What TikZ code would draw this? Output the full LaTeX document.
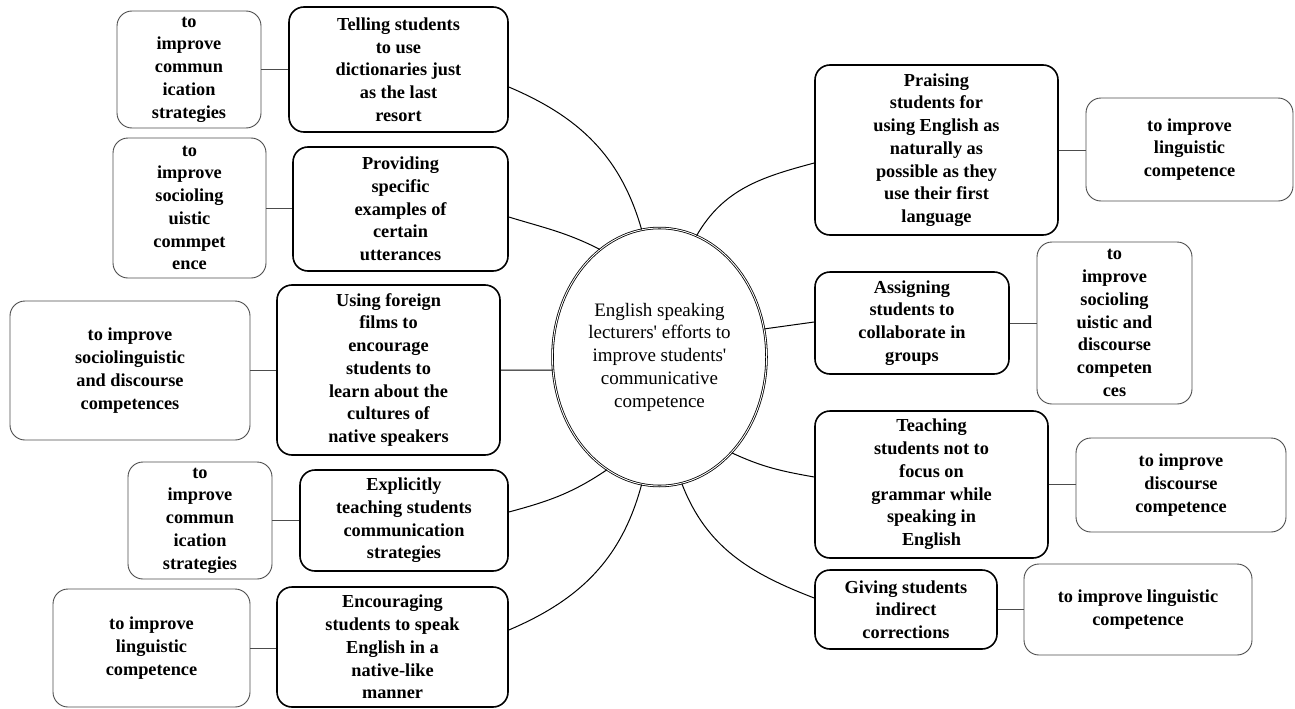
\documentclass[tikz,border=0pt]{standalone}
\usepackage{fontspec}
\setmainfont{Liberation Serif}[Ligatures=TeXOff]
\usetikzlibrary{shapes.geometric}
\tikzset{
  mainbox/.style={draw=black, line width=1.6pt, rounded corners=15pt, align=center, inner sep=0pt,
    font=\bfseries\fontsize{18.3}{22.75}\selectfont},
  subbox/.style={draw=black!70, line width=0.9pt, rounded corners=15pt, align=center, inner sep=0pt,
    font=\bfseries\fontsize{18.3}{22.75}\selectfont},
  hub/.style={ellipse, draw=black, line width=0.8pt, double=white, double distance=0.9pt,
    align=center, inner sep=0pt, font=\fontsize{19}{22.75}\selectfont},
  link/.style={draw=black!70, line width=0.9pt},
  arm/.style={draw=black, line width=1pt},
}
\begin{document}
\begin{tikzpicture}[x=1pt,y=-1pt]
\useasboundingbox (0,0) rectangle (1295,709);

% centre
\node[hub, minimum width=214pt, minimum height=258pt] (c) at (659.5,357)
  {English speaking\\lecturers' efforts to\\improve students'\\communicative\\competence};

% left main boxes
\node[mainbox, minimum width=219pt, minimum height=125pt] (m1) at (398.5,69.5)
  {Telling students\\to use\\dictionaries just\\as the last\\resort};
\node[mainbox, minimum width=215pt, minimum height=124pt] (m2) at (400.5,209)
  {Providing\\specific\\examples of\\certain\\utterances};
\node[mainbox, minimum width=223pt, minimum height=170pt] (m3) at (388.5,370)
  {Using foreign\\films to\\encourage\\students to\\learn about the\\cultures of\\native speakers};
\node[mainbox, minimum width=208pt, minimum height=101pt] (m4) at (404,520.5)
  {Explicitly\\teaching students\\communication\\strategies};
\node[mainbox, minimum width=231pt, minimum height=120pt] (m5) at (392.5,647)
  {Encouraging\\students to speak\\English in a\\native-like\\manner};

% left secondary boxes
\node[subbox, minimum width=144pt, minimum height=117pt] (s1) at (189,69.5)
  {to\\improve\\commun\\ication\\strategies};
\node[subbox, minimum width=153pt, minimum height=140pt] (s2) at (189.5,208)
  {to\\improve\\socioling\\uistic\\commpet\\ence};
\node[subbox, minimum width=240pt, minimum height=139pt] (s3) at (130,370.5)
  {to improve\\sociolinguistic\\and discourse\\competences};
\node[subbox, minimum width=144pt, minimum height=117pt] (s4) at (200,520.5)
  {to\\improve\\commun\\ication\\strategies};
\node[subbox, minimum width=197pt, minimum height=118pt] (s5) at (151.5,648)
  {to improve\\linguistic\\competence};

% right main boxes
\node[mainbox, minimum width=243pt, minimum height=170pt] (r1) at (936.5,150)
  {Praising\\students for\\using English as\\naturally as\\possible as they\\use their first\\language};
\node[mainbox, minimum width=194pt, minimum height=102pt] (r2) at (912,323)
  {Assigning\\students to\\collaborate in\\groups};
\node[mainbox, minimum width=233pt, minimum height=147pt] (r3) at (931.5,484.5)
  {Teaching\\students not to\\focus on\\grammar while\\speaking in\\English};
\node[mainbox, minimum width=182pt, minimum height=79pt] (r4) at (906,609.5)
  {Giving students\\indirect\\corrections};

% right secondary boxes
\node[subbox, minimum width=207pt, minimum height=103pt] (t1) at (1189.5,149.5)
  {to improve\\linguistic\\competence};
\node[subbox, minimum width=155pt, minimum height=162pt] (t2) at (1114.5,323)
  {to\\improve\\socioling\\uistic and\\discourse\\competen\\ces};
\node[subbox, minimum width=210pt, minimum height=94pt] (t3) at (1181,485)
  {to improve\\discourse\\competence};
\node[subbox, minimum width=228pt, minimum height=91pt] (t4) at (1138,609.5)
  {to improve linguistic\\competence};

% short links
\draw[link] (s1.east) -- (s1.east -| m1.west);
\draw[link] (s2.east) -- (s2.east -| m2.west);
\draw[link] (s3.east) -- (s3.east -| m3.west);
\draw[link] (s4.east) -- (s4.east -| m4.west);
\draw[link] (s5.east) -- (s5.east -| m5.west);
\draw[link] (r1.east) -- (r1.east -| t1.west);
\draw[link] (r2.east) -- (r2.east -| t2.west);
\draw[link] (r3.east) -- (r3.east -| t3.west);
\draw[link] (r4.east) -- (r4.east -| t4.west);

% arms from the centre
\draw[arm] ([yshift=-17.5pt]m1.east) to[out=-23, in=106] (c.98);
\draw[arm] ([yshift=-8pt]m2.east) to[out=-17, in=153] (c.119);
\draw[arm] (m3.east) -- (c.187.5);
\draw[arm] ([yshift=8.5pt]m4.east) to[out=15, in=-146] (c.245.7);
\draw[arm] ([yshift=17pt]m5.east) to[out=23, in=-105] (c.262.6);
\draw[arm] (c.73.6) to[out=60, in=195] ([yshift=-13pt]r1.west);
\draw[arm] (c.15.6) -- ([yshift=1pt]r2.west);
\draw[arm] (c.-53.8) to[out=-25, in=170] ([yshift=7.5pt]r3.west);
\draw[arm] (c.-80) to[out=-69, in=159] ([yshift=11.5pt]r4.west);
\end{tikzpicture}
\end{document}
